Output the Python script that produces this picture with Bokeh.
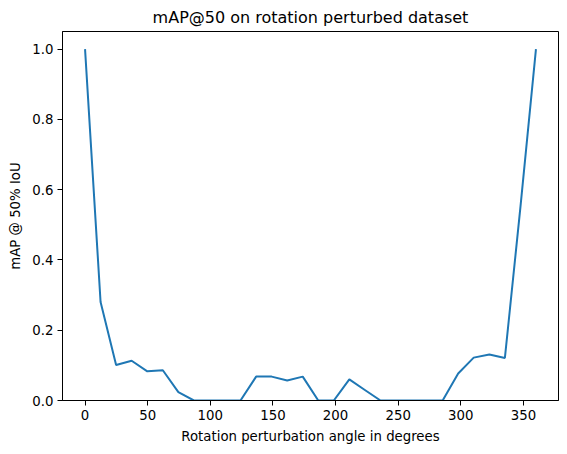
from bokeh.plotting import figure
from bokeh.models import Range1d, FixedTicker, PrintfTickFormatter
from bokeh.embed import file_html
from bokeh.resources import INLINE

angles = [0.0, 12.4, 24.8, 37.2, 49.7, 62.1, 74.5, 86.9, 99.3, 111.7,
          124.1, 136.6, 149.0, 161.4, 173.8, 186.2, 198.6, 211.0, 223.4, 235.9,
          248.3, 260.7, 273.1, 285.5, 297.9, 310.3, 322.8, 335.2, 347.6, 360.0]
map50 = [1.0, 0.28, 0.101, 0.113, 0.083, 0.086, 0.024, 0.0, 0.0, 0.0,
         0.0, 0.068, 0.068, 0.057, 0.068, 0.0, 0.0, 0.06, 0.03, 0.0,
         0.0, 0.0, 0.0, 0.0, 0.077, 0.122, 0.131, 0.121, 0.55, 1.0]
x_ticks = [0, 50, 100, 150, 200, 250, 300, 350]
y_ticks = [0.0, 0.2, 0.4, 0.6, 0.8, 1.0]

FONT = "DejaVu Sans"

p = figure(width=567, height=454, output_backend="svg", toolbar_location=None,
           x_range=Range1d(-18, 378), y_range=Range1d(0, 1.05),
           title="mAP@50 on rotation perturbed dataset",
           min_border_left=62, min_border_right=9, min_border_top=31, min_border_bottom=54)

p.title.align = "center"
p.title.text_font = FONT
p.title.text_font_size = "16px"
p.title.text_font_style = "normal"
p.title.text_color = "#000000"

p.line(angles, map50, line_color="#1f77b4", line_width=2)

p.xgrid.visible = False
p.ygrid.visible = False
p.outline_line_color = "#000000"
p.outline_line_width = 1
p.background_fill_color = "white"
p.border_fill_color = "white"

for ax in (p.xaxis[0], p.yaxis[0]):
    ax.axis_line_color = "#000000"
    ax.major_tick_line_color = "#000000"
    ax.major_tick_out = 5
    ax.major_tick_in = 0
    ax.minor_tick_line_color = None
    ax.major_label_text_font = FONT
    ax.major_label_text_font_size = "13.3px"
    ax.major_label_text_color = "#000000"
    ax.axis_label_text_font = FONT
    ax.axis_label_text_font_size = "13.3px"
    ax.axis_label_text_font_style = "normal"
    ax.axis_label_text_color = "#000000"

p.xaxis.ticker = FixedTicker(ticks=x_ticks)
p.yaxis.ticker = FixedTicker(ticks=y_ticks)
p.yaxis.formatter = PrintfTickFormatter(format="%.1f")
p.xaxis.axis_label = "Rotation perturbation angle in degrees"
p.yaxis.axis_label = "mAP @ 50% IoU"
p.xaxis.major_label_standoff = 4
p.yaxis.major_label_standoff = 4
p.xaxis.axis_label_standoff = 6
p.yaxis.axis_label_standoff = 6

open("out.html", "w").write(file_html(p, INLINE))
